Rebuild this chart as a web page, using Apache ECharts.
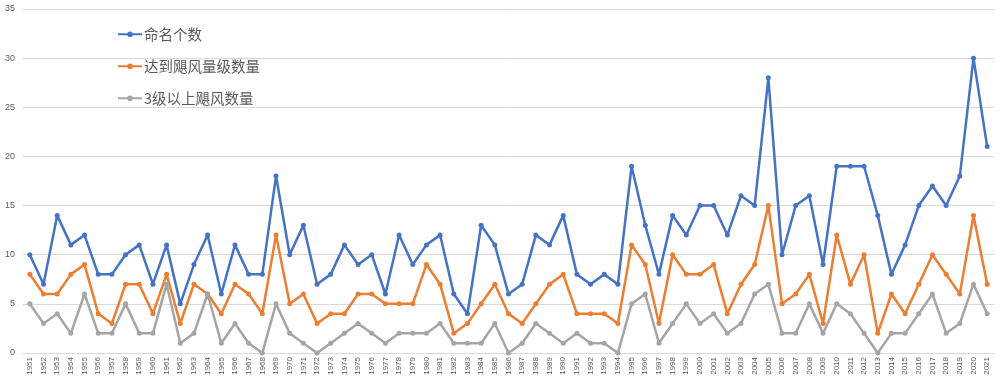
<!DOCTYPE html>
<html>
<head>
<meta charset="utf-8">
<script src="https://cdn.jsdelivr.net/npm/echarts@6/dist/echarts.min.js"></script>
<style>
html,body{margin:0;padding:0;background:#fff;}
#chart{width:1000px;height:383px;}
</style>
</head>
<body>
<div id="chart"></div>
<script>
const years = [];
for (let y = 1951; y <= 2021; y++) years.push(String(y));

const seriesNames = ['命名个数', '达到飓风量级数量', '3级以上飓风数量'];

const named = [10,7,14,11,12,8,8,10,11,7,11,5,9,12,6,11,8,8,18,10,13,7,8,11,9,10,6,12,9,11,12,6,4,13,11,6,7,12,11,14,8,7,8,7,19,13,8,14,12,15,15,12,16,15,28,10,15,16,9,19,19,19,14,8,11,15,17,15,18,30,21];

const hurricanes = [8,6,6,8,9,4,3,7,7,4,8,3,7,6,4,7,6,4,12,5,6,3,4,4,6,6,5,5,5,9,7,2,3,5,7,4,3,5,7,8,4,4,4,3,11,9,3,10,8,8,9,4,7,9,15,5,6,8,3,12,7,10,2,6,4,7,10,8,6,14,7];

const major = [5,3,4,2,6,2,2,5,2,2,7,1,2,6,1,3,1,0,5,2,1,0,1,2,3,2,1,2,2,2,3,1,1,1,3,0,1,3,2,1,2,1,1,0,5,6,1,3,5,3,4,2,3,6,7,2,2,5,2,5,4,2,0,2,2,4,6,2,3,7,4];

const colors = ['#4472C4', '#ED7D31', '#A5A5A5'];

const chart = echarts.init(document.getElementById('chart'));
function mk(name, data, color) {
  return {
    name: name, type: 'line', data: data,
    symbol: 'circle', symbolSize: 5,
    lineStyle: { width: 2.5, color: color },
    itemStyle: { color: color },
    animation: false
  };
}
chart.setOption({
  animation: false,
  color: colors,
  grid: { left: 23, right: 6, top: 9, bottom: 30, containLabel: false },
  legend: {
    orient: 'vertical', left: 112, top: 22,
    itemWidth: 24, itemHeight: 7, itemGap: 17.5,
    textStyle: { fontSize: 14.5, color: '#595959', fontFamily: 'Noto Sans CJK SC', padding: [0, 0, 0, -3] },
    data: seriesNames
  },
  xAxis: {
    type: 'category', data: years, boundaryGap: true,
    axisLine: { show: true, lineStyle: { color: '#d9d9d9' } },
    axisTick: { show: false },
    axisLabel: { rotate: 90, interval: 0, fontSize: 8, color: '#595959', margin: 4, fontFamily: 'Liberation Sans' }
  },
  yAxis: {
    type: 'value', min: 0, max: 35, interval: 5,
    axisLine: { show: false }, axisTick: { show: false },
    splitLine: { lineStyle: { color: '#d9d9d9', width: 1 } },
    axisLabel: { fontSize: 9, color: '#595959', margin: 8, fontFamily: 'Liberation Sans' }
  },
  series: [
    mk(seriesNames[0], named, colors[0]),
    mk(seriesNames[1], hurricanes, colors[1]),
    mk(seriesNames[2], major, colors[2])
  ]
});
</script>
</body>
</html>
